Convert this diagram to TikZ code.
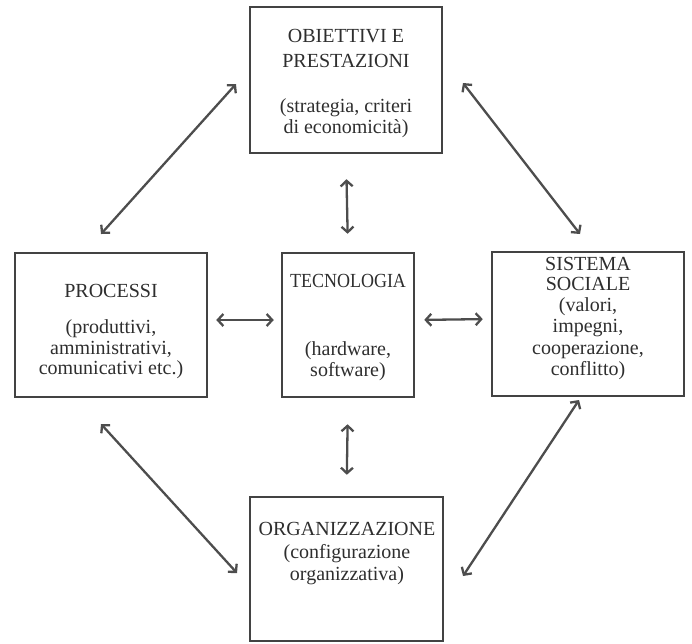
\documentclass[tikz,border=0pt]{standalone}
\usepackage{fontspec}
\setmainfont{Liberation Serif}
\usetikzlibrary{arrows.meta}
\definecolor{boxline}{HTML}{434343}
\definecolor{arrowcol}{HTML}{4d4d4d}
\definecolor{txtcol}{HTML}{2e2e2e}
\newcommand{\boxlines}[1]{\begin{tabular}[t]{@{}c@{}}#1\end{tabular}}
\begin{document}
\begin{tikzpicture}[x=1pt,y=-1pt,
  panel/.style={draw=boxline, line width=2.5pt, inner sep=0pt},
  label/.style={text=txtcol, inner sep=0pt, anchor=base,
    font=\fontsize{20}{20.5}\selectfont},
  link/.style={draw=arrowcol, line width=2.3pt,
    {Straight Barb[length=5.5pt,width=12pt]}-{Straight Barb[length=5.5pt,width=12pt]}}]
\useasboundingbox (0,0) rectangle (692,643);

% boxes
\node[panel, minimum width=192pt, minimum height=146pt] (obj) at (346,80) {};
\node[panel, minimum width=192pt, minimum height=144pt] (proc) at (111,325) {};
\node[panel, minimum width=132pt, minimum height=144pt] (tec) at (348,325) {};
\node[panel, minimum width=192pt, minimum height=144pt] (soc) at (588,324) {};
\node[panel, minimum width=193pt, minimum height=144pt] (org) at (346.5,569) {};

% texts
\node[label] (objT) at (346,42) {\boxlines{OBIETTIVI E\\[4.5pt]PRESTAZIONI\\[25pt](strategia, criteri\\di economicità)}};
\node[label] (procT) at (111,297) {\boxlines{PROCESSI\\[16pt](produttivi,\\amministrativi,\\comunicativi etc.)}};
\node[label] (tecT) at (348,287) {\boxlines{\scalebox{0.9}[1]{TECNOLOGIA}\\[48pt](hardware,\\software)}};
\node[label] (socT) at (588,270) {\boxlines{SISTEMA\\SOCIALE\\(valori,\\[1pt]impegni,\\[1pt]cooperazione,\\[1pt]conflitto)}};
\node[label] (orgT) at (347,535) {\boxlines{ORGANIZZAZIONE\\[3pt](configurazione\\[1pt]organizzativa)}};

% free ends of diagonal connectors
\coordinate (d1a) at (101,234);
\coordinate (d1b) at (236,84);
\coordinate (d2a) at (463,83);
\coordinate (d2b) at (580,234);
\coordinate (d3a) at (101,424);
\coordinate (d3b) at (237,573);
\coordinate (d4a) at (463,576);
\coordinate (d4b) at (579,400);

\draw[link] (d1a) -- (d1b);
\draw[link] (d2a) -- (d2b);
\draw[link] (d3a) -- (d3b);
\draw[link] (d4a) -- (d4b);

% straight connectors between nodes
\draw[link, shorten <=25pt, shorten >=18pt] (obj.south) -- (tec.north);
\draw[link, shorten <=26pt, shorten >=21pt] (tec.south) -- (org.south |- org.north);
\draw[link, shorten <=8pt, shorten >=7pt] ([yshift=5pt]proc.east) -- ([yshift=5pt]tec.west);
\draw[link, shorten <=9pt, shorten >=8pt] ([yshift=5pt]tec.east) -- ([yshift=5pt]soc.west);
\end{tikzpicture}
\end{document}
